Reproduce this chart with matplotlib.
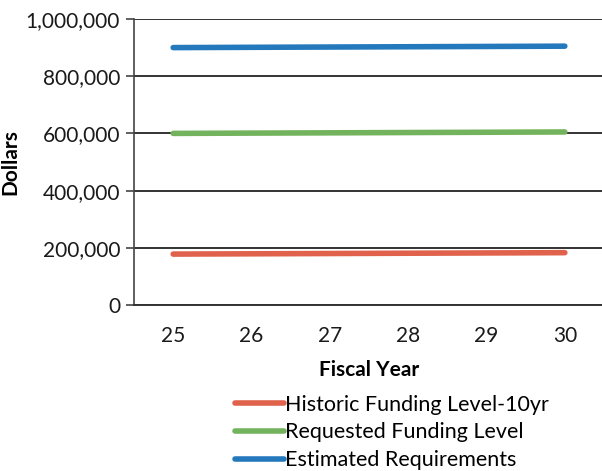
import matplotlib
matplotlib.use("Agg")
import matplotlib.pyplot as plt
from matplotlib.ticker import FuncFormatter

# data
years = ["25", "26", "27", "28", "29", "30"]
historic = [178000, 179000, 180000, 181000, 182000, 183000]
requested = [600000, 601000, 602000, 603000, 604000, 605000]
estimated = [900000, 901000, 902000, 903000, 904000, 905000]
series_names = ["Historic Funding Level-10yr", "Requested Funding Level",
                "Estimated Requirements"]
colors = ["#e0624c", "#74b35e", "#2479bd"]

plt.rcParams["font.family"] = ["Lato", "DejaVu Sans"]

fig = plt.figure(figsize=(6.02, 4.71), dpi=100)
ax = fig.add_axes([134 / 602, 1 - 305 / 471, 470 / 602, 286 / 471])

x = range(len(years))
lines = []
for vals, name, col in zip([historic, requested, estimated], series_names, colors):
    (ln,) = ax.plot(x, vals, color=col, linewidth=4, solid_capstyle="round",
                    label=name, zorder=3)
    lines.append(ln)

ax.set_xlim(-0.5, len(years) - 0.5)
ax.set_ylim(0, 1000000)
ax.set_yticks(range(0, 1000001, 200000))
ax.yaxis.set_major_formatter(FuncFormatter(lambda v, _: f"{int(v):,}"))
ax.set_xticks(list(x))
ax.set_xticklabels(years)

ax.grid(axis="y", color="#333333", linewidth=1.4, zorder=1)
for side in ["top", "right"]:
    ax.spines[side].set_visible(False)
ax.spines["left"].set_color("#444444")
ax.spines["left"].set_linewidth(1.2)
ax.spines["bottom"].set_color("#333333")
ax.spines["bottom"].set_linewidth(1.4)
ax.tick_params(axis="y", length=6, width=1.2, color="#444444", labelsize=15,
               pad=4, labelcolor="#1a1a1a")
ax.tick_params(axis="x", length=0, labelsize=15, pad=15, labelcolor="#1a1a1a")

ax.set_ylabel("Dollars", fontsize=15, fontweight="bold", labelpad=4)
ax.set_xlabel("Fiscal Year", fontsize=15, fontweight="bold", labelpad=10)

fig.legend(handles=lines, loc="upper left", bbox_to_anchor=(226 / 602, 1 - 386 / 471),
           frameon=False, fontsize=15.5, handlelength=2.3, handletextpad=0.05,
           labelspacing=0.36, borderaxespad=0)

fig.savefig("out.png", dpi=100)
